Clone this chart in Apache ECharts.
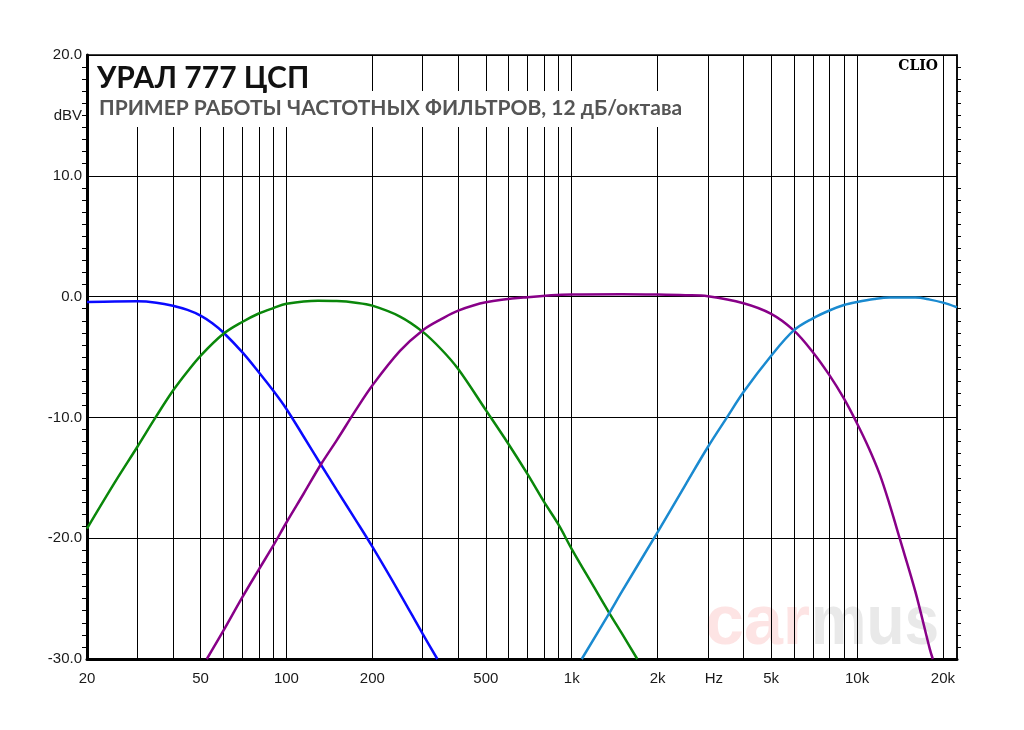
<!DOCTYPE html>
<html><head><meta charset="utf-8">
<script src="https://cdn.jsdelivr.net/npm/echarts/dist/echarts.min.js"></script>
<style>html,body{margin:0;padding:0;background:#fff}#c{width:1024px;height:730px}</style>
</head><body><div id="c"></div>
<script>
// ---- data ----
const gridFreqs = [30,40,50,60,70,80,90,100,200,300,400,500,600,700,800,900,1000,2000,3000,4000,5000,6000,7000,8000,9000,10000,20000];
const xLabelVals = [20,50,100,200,500,1000,2000,3150,5000,10000,20000];
const xLabelText = ['20','50','100','200','500','1k','2k','Hz','5k','10k','20k'];

const blueF = [20,25,30,35,40,45,50,55,60,70,80,90,100,115,132,150,175,200,250,300,338];
const blueV = [-0.45,-0.4,-0.39,-0.5,-0.75,-1.1,-1.57,-2.2,-2.95,-4.6,-6.26,-7.8,-9.3,-11.6,-13.9,-16.0,-18.5,-20.7,-24.6,-27.9,-30];

const greenF = [20,25,30,35,40,45,50,60,70,80,90,100,129,150,175,200,250,300,350,400,500,600,700,800,900,1000,1200,1354,1500,1697];
const greenV = [-19.2,-15.4,-12.45,-9.9,-7.8,-6.2,-4.9,-3.1,-2.1,-1.4,-0.95,-0.6,-0.35,-0.37,-0.5,-0.75,-1.65,-2.9,-4.4,-6.0,-9.4,-12.2,-14.7,-17.0,-18.9,-20.9,-24.1,-26.2,-27.9,-30];

const purpleF = [52.6,60,70,80,90,100,115,132,150,175,200,250,300,350,400,500,700,1000,1500,2000,2500,3000,4000,5000,6000,7000,8000,9000,10000,11000,12000,13000,14100,16000,18000,18430];
const purpleV = [-30,-27.7,-24.9,-22.6,-20.6,-18.7,-16.3,-13.9,-11.9,-9.4,-7.36,-4.5,-2.8,-1.85,-1.16,-0.47,-0.05,0.17,0.2,0.17,0.12,0.03,-0.55,-1.43,-2.8,-4.6,-6.5,-8.45,-10.5,-12.55,-14.7,-17.2,-20,-24.4,-29.2,-30];

const cyanF = [1084,1354,1500,2000,2500,3000,3500,4000,5000,6000,7000,8000,9000,10000,11500,13000,16000,18000,20000,22400];
const cyanV = [-30,-26.2,-24.4,-19.5,-15.6,-12.45,-10.0,-7.9,-4.9,-2.8,-1.8,-1.15,-0.7,-0.45,-0.2,-0.08,-0.08,-0.25,-0.5,-0.88];

// ---- chart ----
const chart = echarts.init(document.getElementById('c'), null, {renderer:'canvas'});
function mk(name, f, v, color) {
  return {name, type:'line', data:f.map((x,i)=>[x,v[i]]), showSymbol:false, smooth:0.35,
    lineStyle:{color, width:2.5}, itemStyle:{color}, z:5, clip:true, animation:false};
}
const axisFont = '"Liberation Sans", Arial, sans-serif';
chart.setOption({
  animation:false,
  backgroundColor:'#fff',
  grid:{left:87, right:67, top:55, bottom:71, show:true, borderColor:'#000', borderWidth:1.5, backgroundColor:'transparent'},
  xAxis:{type:'log', logBase:10, min:20, max:22400,
    axisLine:{show:true, onZero:false, lineStyle:{color:'#000', width:3}},
    axisTick:{show:false}, axisLabel:{show:false}, splitLine:{show:false}, minorTick:{show:false}},
  yAxis:[{type:'value', min:-30, max:20, interval:10, position:'left',
    axisLine:{show:true, lineStyle:{color:'#000', width:3}},
    axisTick:{show:false},
    minorTick:{show:true, splitNumber:10, length:5, lineStyle:{color:'#000', width:1}},
    axisLabel:{show:true, margin:5, color:'#1a1a1a', fontSize:15, fontFamily:axisFont, formatter:v=>v.toFixed(1)},
    splitLine:{show:true, lineStyle:{color:'#000', width:1}}},
   {type:'value', min:-30, max:20, interval:10, position:'right',
    axisLine:{show:true, lineStyle:{color:'#000', width:1.5}},
    axisTick:{show:false}, axisLabel:{show:false}, splitLine:{show:false},
    minorTick:{show:true, splitNumber:10, length:4, lineStyle:{color:'#000', width:1}}}],
  series:[
    {type:'line', data:[], z:1, silent:true,
     markLine:{silent:true, symbol:['none','none'], animation:false, label:{show:false},
       lineStyle:{color:'#000', width:1, type:'solid'}, emphasis:{disabled:true},
       data:gridFreqs.map(f=>({xAxis:f}))}},
    {type:'line', data:[], z:1, silent:true,
     markLine:{silent:true, symbol:['none','none'], animation:false,
       lineStyle:{color:'rgba(0,0,0,0)', width:1, type:'solid'}, emphasis:{disabled:true},
       label:{show:true, position:'start', distance:12, color:'#1a1a1a', fontSize:15, fontFamily:axisFont},
       data:xLabelVals.map((f,i)=>({xAxis:f, label:{formatter:xLabelText[i]}}))}},
    mk('blue', blueF, blueV, '#0a0aff'),
    mk('green', greenF, greenV, '#0a870a'),
    mk('purple', purpleF, purpleV, '#880088'),
    mk('cyan', cyanF, cyanV, '#1a8ad0')
  ],
  graphic:[
    {type:'text', z:-10, left:705, top:590, style:{text:'car', font:'bold 70px "Liberation Sans", Arial, sans-serif', fill:'#fde4e4'}},
    {type:'text', z:-10, x:811, y:590, scaleX:0.89, style:{text:'mus', font:'bold 70px "Liberation Sans", Arial, sans-serif', fill:'#e9e9e9'}},
    {type:'rect', z:50, shape:{x:93, y:56, width:220, height:71}, style:{fill:'#fff'}},
    {type:'rect', z:50, shape:{x:313, y:91, width:377, height:36}, style:{fill:'#fff'}},
    {type:'text', z:60, x:97, y:63, style:{text:'УРАЛ 777 ЦСП', font:'bold 30px Lato, sans-serif', fill:'#111'}},
    {type:'text', z:60, x:99, y:98, style:{text:'ПРИМЕР РАБОТЫ ЧАСТОТНЫХ ФИЛЬТРОВ, 12 дБ/октава', font:'bold 21px Lato, sans-serif', fill:'#555'}},
    {type:'text', z:60, x:938, y:59, style:{text:'CLIO', font:'bold 14px "DejaVu Serif", serif', fill:'#000', align:'right'}},
    {type:'text', z:60, x:82, y:108, style:{text:'dBV', font:'15px "Liberation Sans", Arial, sans-serif', fill:'#1a1a1a', align:'right'}}
  ]
});
</script></body></html>
